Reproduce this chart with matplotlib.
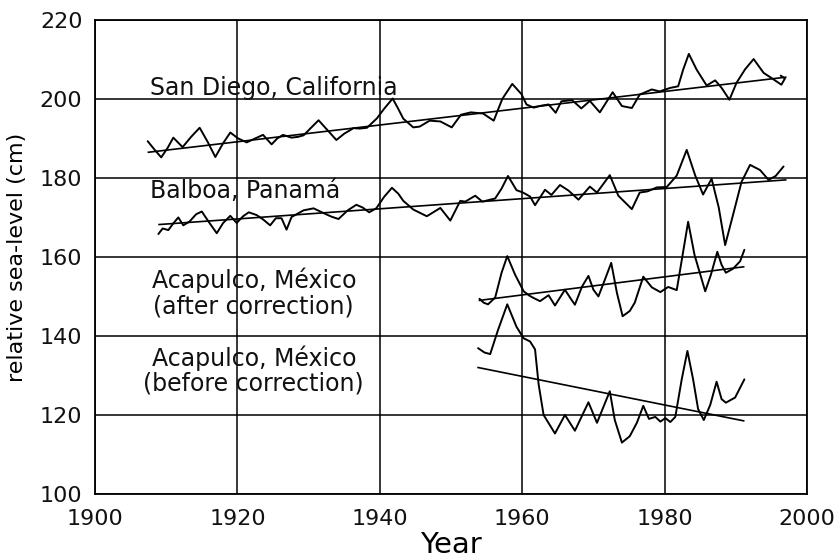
import matplotlib
matplotlib.use("Agg")
import matplotlib.pyplot as plt

# ---- San Diego, California (smoothed annual mean sea level) ----
sd_year = [1907.4, 1908.3, 1909.3, 1910.2, 1911.0, 1911.7, 1912.3, 1913.5, 1914.7, 1915.8,
           1916.9, 1918.0, 1919.0, 1920.1, 1921.3, 1922.5, 1923.6, 1924.8, 1925.6, 1926.4,
           1927.6, 1928.5, 1929.3, 1930.4, 1931.4, 1932.7, 1933.9, 1935.0, 1936.3, 1937.2,
           1938.2, 1939.6, 1940.6, 1941.8, 1942.5, 1943.3, 1944.7, 1945.6, 1947.0, 1948.5,
           1950.1, 1951.4, 1952.8, 1954.5, 1956.0, 1957.2, 1958.6, 1959.9, 1960.6, 1961.6,
           1962.7, 1963.7, 1964.7, 1965.5, 1967.0, 1968.3, 1969.5, 1970.9, 1972.7, 1974.0,
           1975.4, 1976.5, 1978.2, 1979.3, 1980.8, 1981.9, 1982.6, 1983.4, 1984.5, 1985.9,
           1987.1, 1988.0, 1989.1, 1990.1, 1991.3, 1992.5, 1993.9, 1995.0, 1996.4, 1996.9,
           1996.3]
sd_level = [189.3, 187.3, 185.2, 187.6, 190.2, 188.9, 187.8, 190.4, 192.7, 189.2,
            185.3, 188.8, 191.5, 190.0, 189.0, 190.0, 190.9, 188.5, 190.0, 190.9,
            190.2, 190.4, 190.8, 192.8, 194.6, 192.0, 189.6, 191.2, 192.6, 192.5,
            192.7, 195.1, 197.5, 200.1, 197.8, 195.0, 192.8, 193.0, 194.5, 194.3,
            192.8, 196.0, 196.6, 196.3, 194.5, 200.0, 203.8, 201.2, 198.6, 197.8,
            198.3, 198.6, 196.5, 199.4, 199.7, 197.6, 199.5, 196.6, 201.7, 198.2,
            197.7, 201.1, 202.4, 201.9, 202.8, 203.2, 207.4, 211.4, 207.4, 203.4,
            204.7, 202.8, 199.8, 204.1, 207.5, 210.1, 206.6, 205.3, 203.6, 205.2,
            205.9]
sd_trend_year = [1907.5, 1997.0]
sd_trend_level = [186.5, 205.5]

# ---- Balboa, Panamá ----
bal_year = [1908.9, 1909.5, 1910.3, 1911.0, 1911.7, 1912.4, 1913.3, 1914.2, 1915.0, 1916.0,
            1917.1, 1918.0, 1919.0, 1919.9, 1920.8, 1921.6, 1922.7, 1923.6, 1924.6, 1925.4,
            1926.2, 1926.9, 1927.6, 1928.5, 1929.3, 1930.7, 1932.1, 1933.2, 1934.2, 1935.5,
            1936.7, 1937.6, 1938.5, 1939.5, 1940.6, 1941.7, 1942.6, 1943.3, 1944.7, 1946.6,
            1948.5, 1949.9, 1951.3, 1952.0, 1953.4, 1954.4, 1956.2, 1957.1, 1958.0, 1959.2,
            1960.1, 1961.1, 1961.8, 1963.2, 1964.1, 1965.3, 1966.5, 1967.9, 1969.5, 1970.5,
            1972.3, 1973.5, 1975.4, 1976.5, 1977.6, 1978.9, 1980.3, 1981.7, 1983.1, 1984.3,
            1985.4, 1986.6, 1987.6, 1988.5, 1989.6, 1990.8, 1992.0, 1993.4, 1994.6, 1995.6,
            1996.7]
bal_level = [165.8, 167.2, 166.8, 168.5, 170.0, 168.0, 169.0, 170.8, 171.5, 168.8,
             166.0, 168.6, 170.4, 168.6, 170.3, 171.3, 170.6, 169.5, 168.0, 169.8,
             169.8, 166.9, 170.1, 171.0, 171.8, 172.3, 171.1, 170.2, 169.6, 171.8,
             173.2, 172.5, 171.3, 172.3, 175.2, 177.5, 176.0, 174.2, 172.0, 170.3,
             172.4, 169.2, 174.2, 174.0, 175.5, 174.0, 174.8, 177.3, 180.5, 176.9,
             176.3, 175.3, 173.1, 177.0, 175.7, 178.2, 176.8, 174.5, 177.8, 176.3,
             180.7, 175.5, 172.1, 176.3, 176.6, 177.6, 177.7, 180.6, 187.1, 180.6,
             175.8, 179.8, 172.5, 163.0, 170.6, 179.0, 183.3, 182.0, 179.5, 180.5,
             182.9]
bal_trend_year = [1909.0, 1997.0]
bal_trend_level = [168.2, 179.5]

# ---- Acapulco, México (after correction) ----
aca_a_year = [1954.0, 1954.6, 1955.2, 1956.2, 1957.1, 1957.9, 1959.0, 1960.2, 1961.0, 1961.6,
              1962.5, 1963.7, 1964.6, 1966.0, 1966.9, 1967.4, 1968.4, 1969.3, 1970.0, 1970.7,
              1971.6, 1972.5, 1973.3, 1974.1, 1975.1, 1975.8, 1977.0, 1978.2, 1979.4, 1980.5,
              1981.7, 1982.6, 1983.3, 1984.2, 1985.7, 1986.5, 1987.4, 1988.0, 1988.6, 1989.6,
              1990.6, 1991.2]
aca_a_level = [149.4, 148.4, 148.0, 149.7, 156.0, 160.2, 155.5, 151.3, 150.2, 149.6,
               148.8, 150.3, 147.7, 151.7, 149.2, 147.9, 152.5, 155.2, 151.7, 150.0,
               154.2, 158.5, 150.9, 145.0, 146.3, 148.4, 155.0, 152.3, 151.1, 152.4,
               151.6, 161.3, 168.9, 160.5, 151.3, 155.5, 161.3, 158.0, 156.0, 157.0,
               158.9, 161.8]
aca_a_trend_year = [1954.0, 1991.1]
aca_a_trend_level = [149.0, 157.5]

# ---- Acapulco, México (before correction) ----
aca_b_year = [1953.8, 1954.7, 1955.5, 1956.6, 1957.9, 1959.2, 1960.2, 1961.1, 1961.8, 1962.3,
              1963.0, 1964.6, 1966.0, 1967.4, 1969.3, 1970.5, 1972.3, 1973.0, 1974.0, 1975.1,
              1976.1, 1977.0, 1977.8, 1978.7, 1979.4, 1980.1, 1980.8, 1981.5, 1982.4, 1983.2,
              1984.0, 1984.7, 1985.5, 1986.4, 1987.3, 1988.0, 1988.6, 1989.9, 1991.2]
aca_b_level = [136.9, 135.8, 135.4, 141.5, 148.0, 142.3, 139.4, 138.6, 136.6, 127.8,
               120.0, 115.3, 120.0, 116.0, 123.2, 118.0, 126.0, 118.7, 113.0, 114.6,
               118.0, 122.3, 119.0, 119.5, 118.3, 119.2, 118.2, 119.5, 129.0, 136.2,
               129.0, 121.5, 118.7, 122.5, 128.4, 124.0, 123.1, 124.4, 129.0]
aca_b_trend_year = [1953.8, 1991.1]
aca_b_trend_level = [132.0, 118.5]

x_ticks = [1900, 1920, 1940, 1960, 1980, 2000]
y_ticks = [100, 120, 140, 160, 180, 200, 220]

plt.rcParams['font.family'] = ['DejaVu Sans']

fig = plt.figure(figsize=(8.37, 5.6), dpi=100)
ax = fig.add_axes([0.1135, 0.118, 0.8507, 0.8464])

line_kw = dict(color='black', lw=1.4, solid_joinstyle='round', solid_capstyle='round')
trend_kw = dict(color='black', lw=1.2)

for yrs, vals, tyrs, tvals in [
    (sd_year, sd_level, sd_trend_year, sd_trend_level),
    (bal_year, bal_level, bal_trend_year, bal_trend_level),
    (aca_a_year, aca_a_level, aca_a_trend_year, aca_a_trend_level),
    (aca_b_year, aca_b_level, aca_b_trend_year, aca_b_trend_level),
]:
    ax.plot(yrs, vals, **line_kw, zorder=3)
    ax.plot(tyrs, tvals, **trend_kw, zorder=3)

ax.set_xlim(1900, 2000)
ax.set_ylim(100, 220)
ax.set_xticks(x_ticks)
ax.set_yticks(y_ticks)
ax.grid(True, color='black', lw=1.1, zorder=1)
ax.tick_params(axis='both', length=0, labelsize=16, colors='#111111')
ax.tick_params(axis='x', pad=11)
ax.tick_params(axis='y', pad=9)
for sp in ax.spines.values():
    sp.set_color('black')
    sp.set_linewidth(1.3)

ax.set_xlabel('Year', fontsize=21, labelpad=1)
ax.set_ylabel('relative sea-level (cm)', fontsize=16, labelpad=9)

txt_kw = dict(fontsize=17, color='#111111', zorder=4)
ax.text(1907.7, 202.7, 'San Diego, California', ha='left', va='center', **txt_kw)
ax.text(1907.7, 176.6, 'Balboa, Panamá', ha='left', va='center', **txt_kw)
ax.text(1922.3, 150.9, 'Acapulco, México\n(after correction)', ha='center', va='center',
        multialignment='center', linespacing=1.05, **txt_kw)
ax.text(1922.3, 131.2, 'Acapulco, México\n(before correction)', ha='center', va='center',
        multialignment='center', linespacing=1.05, **txt_kw)

fig.savefig('out.png', dpi=100)
